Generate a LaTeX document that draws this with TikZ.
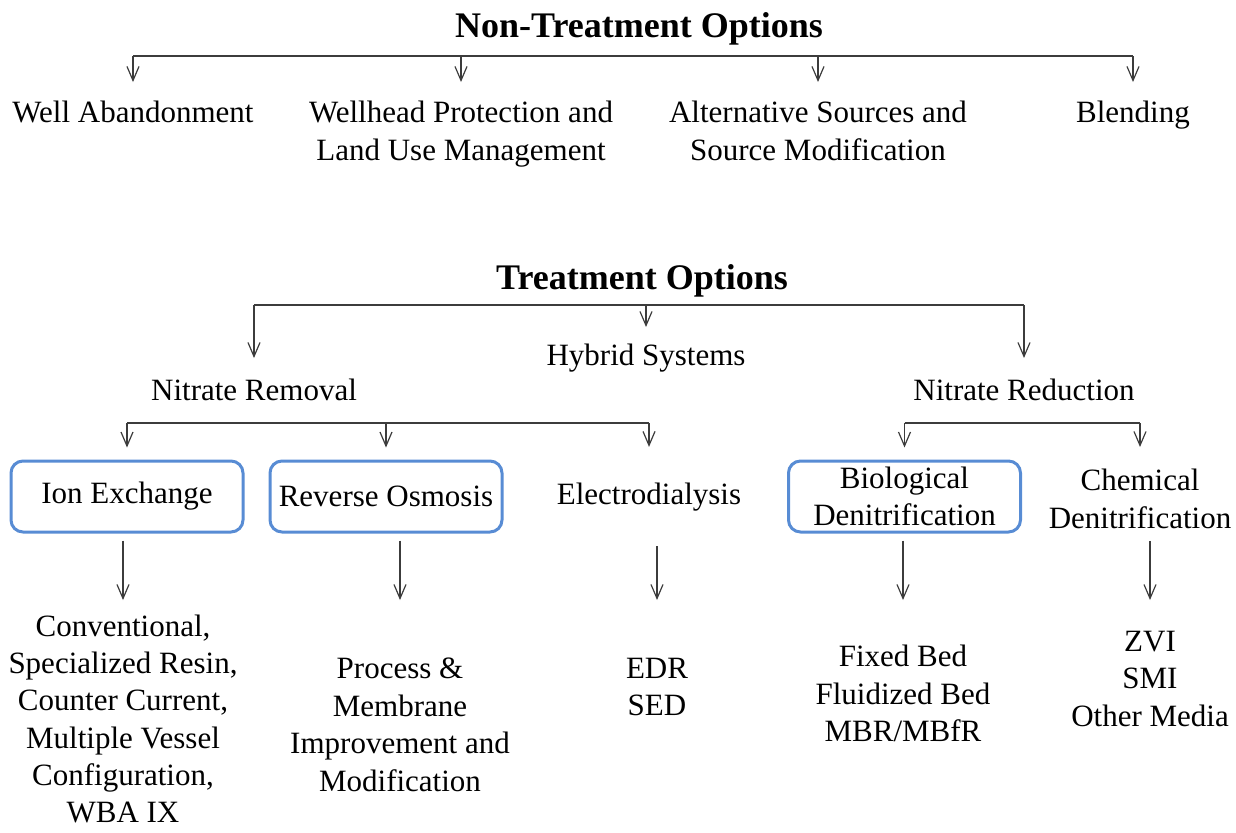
\documentclass[tikz,border=0pt]{standalone}
\usepackage{fontspec}
\setmainfont{Liberation Serif}
\usetikzlibrary{arrows.meta,calc}
\definecolor{boxblue}{RGB}{88,140,212}
\definecolor{lncol}{RGB}{60,60,60}
\begin{document}
\begin{tikzpicture}[x=0.5pt,y=-0.5pt,
  txt/.style={inner sep=0pt,outer sep=0pt,align=center,font=\fontsize{15.5}{18.8}\selectfont,anchor=north},
  ttl/.style={inner sep=0pt,outer sep=0pt,font=\fontsize{18}{21}\selectfont\bfseries},
  bbox/.style={draw=boxblue,line width=1.5pt,rounded corners=6pt,minimum width=116pt,minimum height=35.5pt,inner sep=0pt,align=center,font=\fontsize{15.5}{18.8}\selectfont},
  ln/.style={draw=lncol,line width=0.6pt},
  arr/.style={ln,-{Straight Barb[length=7pt,width=6pt]}}]
\useasboundingbox (0,0) rectangle (1236,832);
% rows
\coordinate (y1) at (0,56);
\coordinate (y2) at (0,305);
\coordinate (y3) at (0,423);
% non-treatment
\node[ttl] (nto) at (639,29) {Non-Treatment Options};
\node[txt] (wa) at (133,101) {Well Abandonment};
\node[txt] (wh) at (461,101) {Wellhead Protection and\\Land Use Management};
\node[txt] (as) at (818,101) {Alternative Sources and\\Source Modification};
\node[txt] (bl) at (1133,101) {Blending};
\draw[ln] (wa.north |- y1) -- (bl.north |- y1);
\foreach \n in {wa,wh,as,bl}{\draw[arr,shorten >=9.5pt] (\n.north |- y1) -- (\n.north);}
% treatment
\node[ttl] (to) at (642,281) {Treatment Options};
\node[txt] (hy) at (646,344) {Hybrid Systems};
\node[txt] (nr) at (254,379) {Nitrate Removal};
\node[txt] (nd) at (1024,379) {Nitrate Reduction};
\draw[ln] (nr.north |- y2) -- (nd.north |- y2);
\draw[arr,shorten >=10.5pt] (nr.north |- y2) -- (nr.north);
\draw[arr,shorten >=8.5pt] (hy.north |- y2) -- (hy.north);
\draw[arr,shorten >=10.5pt] (nd.north |- y2) -- (nd.north);
% second level
\node[bbox] (ix) at (127,496.5) {Ion Exchange};
\node[bbox] (ro) at (386,496.5) {Reverse Osmosis};
\node[txt,anchor=center] (ed) at (649,497) {Electrodialysis};
\node[bbox] (bd) at (904.5,496.5) {Biological\\Denitrification};
\node[txt] (cd) at (1140,469) {Chemical\\Denitrification};
\draw[ln] (ix.north |- y3) -- (ed.north |- y3);
\draw[ln] (bd.north |- y3) -- (cd.north |- y3);
\draw[arr,shorten >=6pt] (ix.north |- y3) -- (ix.north);
\draw[arr,shorten >=6pt] (ro.north |- y3) -- (ro.north);
\draw[arr,shorten >=18pt] (ed.north |- y3) -- (ed.north);
\draw[arr,shorten >=6pt] (bd.north |- y3) -- (bd.north);
\draw[arr,shorten >=11pt] (cd.north |- y3) -- (cd.north);
% lists
\node[txt,font=\fontsize{15.5}{18.6}\selectfont] (ixl) at (123,615) {Conventional,\\Specialized Resin,\\Counter Current,\\Multiple Vessel\\Configuration,\\WBA IX};
\node[txt] (rol) at (400,658) {Process \&\\Membrane\\Improvement and\\Modification};
\node[txt] (edl) at (657,658) {EDR\\SED};
\node[txt] (bdl) at (903,645) {Fixed Bed\\Fluidized Bed\\MBR/MBfR};
\node[txt] (cdl) at (1150,631) {ZVI\\SMI\\Other Media};
\draw[arr,shorten <=3.5pt,shorten >=7.5pt] (ix.south -| ixl.north) -- (ixl.north);
\draw[arr,shorten <=3.5pt,shorten >=29pt] (ro.south -| rol.north) -- (rol.north);
\draw[arr,shorten <=17.5pt,shorten >=29pt] (ed.south -| edl.north) -- (edl.north);
\draw[arr,shorten <=3.5pt,shorten >=22.5pt] (bd.south -| bdl.north) -- (bdl.north);
\draw[arr,shorten <=6.2pt,shorten >=15.5pt] (cd.south -| cdl.north) -- (cdl.north);
\end{tikzpicture}
\end{document}
